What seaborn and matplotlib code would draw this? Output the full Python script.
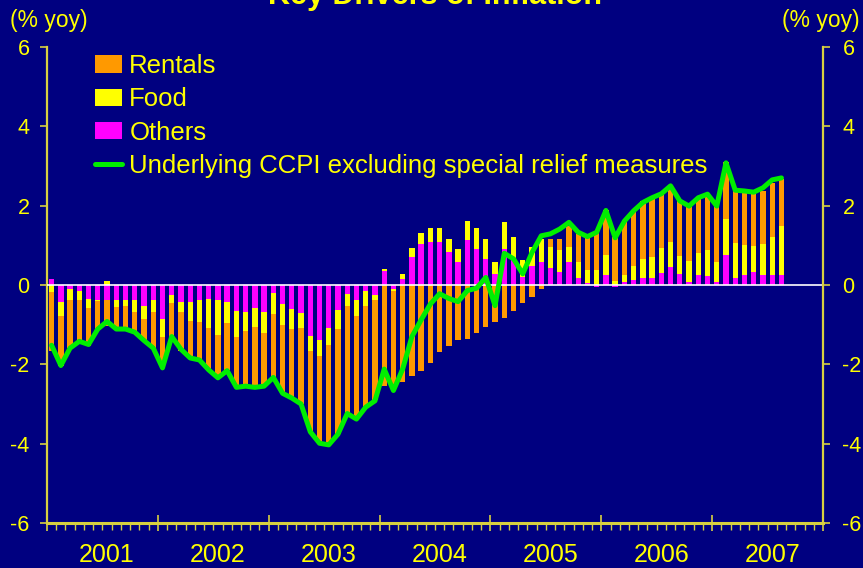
import numpy as np
import pandas as pd
import matplotlib.pyplot as plt
import matplotlib.transforms as mtransforms
from matplotlib.patches import Patch
from matplotlib.lines import Line2D
import seaborn as sns

# monthly data, Jan 2001 - Aug 2007 (% yoy contribution)
months = pd.date_range('2001-01-01', periods=80, freq='MS').strftime('%Y-%m').tolist()
years = ['2001', '2002', '2003', '2004', '2005', '2006', '2007']

rentals = [-1.49, -1.25, -1.19, -1.01, -0.94, -0.71, -0.65, -0.56, -0.55, -0.52,
           -0.55, -0.92, -0.79, -0.84, -0.97, -0.94, -0.94, -1.06, -1.07, -1.19,
           -1.28, -1.37, -1.51, -1.34, -1.58, -1.73, -1.75, -1.92, -2.03, -2.21,
           -2.52, -2.65, -2.69, -2.58, -2.54, -2.52, -2.55, -2.50, -2.44, -2.29,
           -2.17, -1.96, -1.68, -1.54, -1.38, -1.37, -1.22, -1.07, -0.94, -0.82,
           -0.66, -0.46, -0.31, -0.11, 0.20, 0.30, 0.53, 0.70, 0.86, 0.94,
           1.12, 1.12, 1.38, 1.39, 1.45, 1.50, 1.36, 1.40, 1.39, 1.39,
           1.39, 1.39, 1.41, 1.42, 1.33, 1.35, 1.34, 1.34, 1.37, 1.18]

food = [-0.17, -0.34, -0.30, -0.25, -0.24, -0.02, 0.11, -0.17, -0.15, -0.28,
        -0.34, -0.29, -0.45, -0.22, -0.25, -0.46, -0.56, -0.73, -0.88, -0.52,
        -0.66, -0.50, -0.50, -0.53, -0.53, -0.53, -0.50, -0.38, -0.38, -0.40,
        -0.42, -0.48, -0.32, -0.40, -0.38, -0.15, 0.05, -0.03, 0.13, 0.23,
        0.27, 0.36, 0.36, 0.34, 0.34, 0.48, 0.51, 0.50, 0.29, 0.66,
        0.56, 0.45, 0.48, 0.59, 0.55, 0.55, 0.39, 0.41, 0.33, 0.39,
        0.50, 0.10, 0.18, 0.35, 0.48, 0.53, 0.64, 0.64, 0.45, 0.53,
        0.55, 0.66, 0.50, 0.91, 0.88, 0.76, 0.66, 0.78, 0.96, 1.24]

others = [0.16, -0.44, -0.09, -0.14, -0.35, -0.38, -0.38, -0.38, -0.39, -0.39,
          -0.52, -0.38, -0.86, -0.24, -0.44, -0.44, -0.38, -0.35, -0.39, -0.44,
          -0.65, -0.67, -0.57, -0.67, -0.21, -0.47, -0.60, -0.70, -1.28, -1.38,
          -1.09, -0.62, -0.22, -0.39, -0.16, -0.24, 0.35, -0.11, 0.15, 0.71,
          1.04, 1.08, 1.08, 0.82, 0.57, 1.14, 0.92, 0.66, 0.28, 0.92,
          0.66, 0.19, 0.49, 0.57, 0.42, 0.32, 0.57, 0.18, 0.06, -0.04,
          0.26, -0.05, 0.08, 0.13, 0.18, 0.18, 0.30, 0.45, 0.28, 0.08,
          0.25, 0.23, 0.08, 0.76, 0.18, 0.25, 0.33, 0.25, 0.25, 0.25]

underlying = [-1.52, -2.03, -1.59, -1.42, -1.50, -1.11, -0.92, -1.11, -1.11, -1.19,
              -1.40, -1.59, -2.09, -1.30, -1.62, -1.84, -1.89, -2.14, -2.34, -2.16,
              -2.58, -2.55, -2.58, -2.55, -2.33, -2.73, -2.85, -3.00, -3.70, -3.99,
              -4.03, -3.76, -3.24, -3.38, -3.08, -2.92, -2.12, -2.66, -2.12, -1.30,
              -0.88, -0.48, -0.22, -0.34, -0.42, -0.14, -0.08, 0.19, -0.52, 0.80,
              0.66, 0.28, 0.82, 1.24, 1.29, 1.41, 1.58, 1.33, 1.22, 1.33,
              1.88, 1.19, 1.61, 1.87, 2.08, 2.20, 2.30, 2.50, 2.12, 1.99,
              2.20, 2.29, 1.99, 3.08, 2.39, 2.37, 2.34, 2.45, 2.65, 2.70]

NAVY = '#000080'
ORANGE = '#FF9900'
YELLOW = '#FFFF00'
MAGENTA = '#FF00FF'
GREEN = '#00EE00'
AXIS = '#D8D040'

df = pd.DataFrame({'month': months, 'rentals': rentals, 'food': food,
                   'others': others, 'underlying': underlying})
df['pos'] = np.arange(len(df))

# stack order from zero outwards: others, food, rentals (positives and negatives apart)
up_o = df['others'].clip(lower=0)
up_f = up_o + df['food'].clip(lower=0)
up_r = up_f + df['rentals'].clip(lower=0)
dn_o = df['others'].clip(upper=0)
dn_f = dn_o + df['food'].clip(upper=0)
dn_r = dn_f + df['rentals'].clip(upper=0)
df = df.assign(up_o=up_o, up_f=up_f, up_r=up_r, dn_o=dn_o, dn_f=dn_f, dn_r=dn_r)

sns.set_style('dark', {'axes.facecolor': NAVY, 'figure.facecolor': NAVY,
                       'axes.grid': False, 'axes.edgecolor': AXIS})
plt.rcParams['font.family'] = ['Liberation Sans', 'DejaVu Sans']

fig = plt.figure(figsize=(8.63, 5.68), dpi=100)
ax = fig.add_axes([47 / 863, 1 - 523 / 568, 776 / 863, 476 / 568])

layers = [('up_r', ORANGE), ('dn_r', ORANGE), ('up_f', YELLOW), ('dn_f', YELLOW),
          ('up_o', MAGENTA), ('dn_o', MAGENTA)]
for col, colour in layers:
    sns.barplot(data=df, x='month', y=col, color=colour, saturation=1, width=0.58,
                errorbar=None, linewidth=0, ax=ax)

ax.axhline(0, color='white', lw=1.2, zorder=3)
sns.lineplot(data=df, x='pos', y='underlying', color=GREEN, lw=3.6, ax=ax, zorder=4)

ax.set_xlim(-0.5, 83.5)
ax.set_ylim(-6, 6)
ax.set_xlabel('')
ax.set_ylabel('')
ax.set_xticks(np.arange(-0.5, 84, 12))
ax.set_xticks(np.arange(-0.5, 84, 1), minor=True)
ax.set_xticklabels([])
ax.set_yticks(np.arange(-6, 7, 2))
ax.set_yticklabels([str(v) for v in range(-6, 7, 2)])

for s in ['top', 'right']:
    ax.spines[s].set_visible(False)
ax.spines['left'].set_color(AXIS)
ax.spines['left'].set_linewidth(1.6)
ax.spines['bottom'].set_color(AXIS)
ax.spines['bottom'].set_linewidth(2.2)

ax.tick_params(axis='y', direction='out', length=5, width=1.2, color=AXIS,
               labelcolor=YELLOW, labelsize=15.5, pad=7.5, left=True)
ax.tick_params(axis='x', which='major', direction='inout', length=11, width=1.2,
               color=AXIS, bottom=True)
ax.tick_params(axis='x', which='minor', direction='out', length=5, width=1.0,
               color=AXIS, bottom=True)

ax2 = ax.twinx()
ax2.set_ylim(-6, 6)
ax2.set_yticks(np.arange(-6, 7, 2))
ax2.set_yticklabels([str(v) for v in range(-6, 7, 2)])
for s in ['top', 'left', 'bottom']:
    ax2.spines[s].set_visible(False)
ax2.spines['right'].set_color(AXIS)
ax2.spines['right'].set_linewidth(1.6)
ax2.tick_params(axis='y', direction='out', length=5, width=1.2, color=AXIS,
                labelcolor=YELLOW, labelsize=15.5, pad=9, right=True)
ax2.grid(False)

trans = mtransforms.blended_transform_factory(ax.transData, ax.transAxes)
for k, yr in enumerate(years):
    ax.text(12 * k + 6.0, -0.068, yr, transform=trans, ha='center', va='center',
            color=YELLOW, fontsize=18, family=['Liberation Sans Narrow', 'Liberation Sans'])

fig.text(10 / 863, 1 - 20 / 568, '(% yoy)', ha='left', va='center', color=YELLOW, fontsize=16.5)
fig.text(860 / 863, 1 - 20 / 568, '(% yoy)', ha='right', va='center', color=YELLOW, fontsize=16.5)
fig.text(0.504, 0.993, 'Key Drivers of Inflation', ha='center', va='baseline',
         color=YELLOW, fontsize=22, fontweight='bold')

handles = [Patch(facecolor=ORANGE, edgecolor='none'),
           Patch(facecolor=YELLOW, edgecolor='none'),
           Patch(facecolor=MAGENTA, edgecolor='none'),
           Line2D([], [], color=GREEN, lw=3.6)]
labels = ['Rentals', 'Food', 'Others', 'Underlying CCPI excluding special relief measures']
leg = ax2.legend(handles, labels, loc='upper left', bbox_to_anchor=(0.062, 0.985),
                 frameon=False, fontsize=18.5, borderpad=0, borderaxespad=0,
                 handlelength=1.05, handleheight=0.66, handletextpad=0.28,
                 labelspacing=0.36)
for t in leg.get_texts():
    t.set_color(YELLOW)

fig.savefig('out.png', dpi=100, facecolor=NAVY)
